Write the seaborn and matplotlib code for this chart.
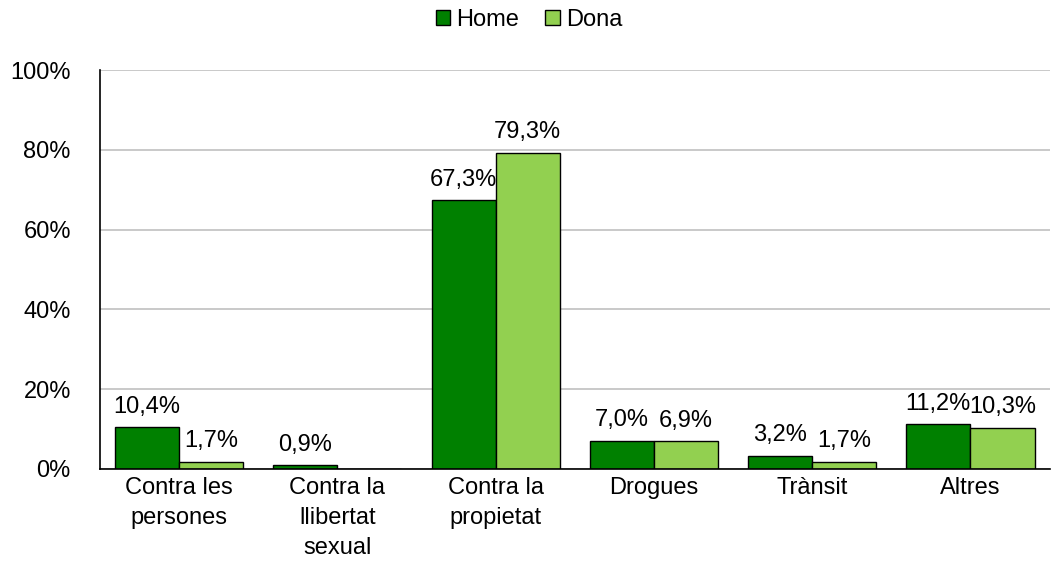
import matplotlib
matplotlib.use("Agg")
import matplotlib.pyplot as plt
import numpy as np
import pandas as pd
import seaborn as sns

CATEGORIES = [
    "Contra les\npersones",
    "Contra la\nllibertat\nsexual",
    "Contra la\npropietat",
    "Drogues",
    "Trànsit",
    "Altres",
]
HOME = [10.4, 0.9, 67.3, 7.0, 3.2, 11.2]
DONA = [1.7, 0.0, 79.3, 6.9, 1.7, 10.3]
SERIES = ["Home", "Dona"]
COLORS = {"Home": "#008000", "Dona": "#92D050"}

df = pd.DataFrame({
    "cat": CATEGORIES * 2,
    "sex": ["Home"] * len(HOME) + ["Dona"] * len(DONA),
    "val": HOME + DONA,
})

sns.set_style("white")
plt.rcParams["font.family"] = ["Liberation Sans", "DejaVu Sans"]
plt.rcParams["text.color"] = "black"
FS = 17

fig = plt.figure(figsize=(10.58, 5.81), dpi=100)
ax = fig.add_axes([0.0945, 0.1928, 0.8975, 0.6867])

sns.barplot(
    data=df, x="cat", y="val", hue="sex", hue_order=SERIES,
    order=CATEGORIES, palette=COLORS, width=0.81,
    edgecolor="black", linewidth=1.0, saturation=1, ax=ax,
)

for cont in ax.containers:
    labels = [f"{b.get_height():.1f}%".replace(".", ",") if b.get_height() > 0 else "" for b in cont]
    ax.bar_label(cont, labels=labels, padding=7, fontsize=FS, color="black")

ax.set_ylim(0, 100)
ax.set_xlim(-0.5, len(CATEGORIES) - 0.5)
ax.set_yticks(np.arange(0, 101, 20))
ax.set_yticklabels([f"{v}%" for v in range(0, 101, 20)], fontsize=FS, color="black")
ax.yaxis.grid(True, color="#c0c0c0", linewidth=1.2)
ax.set_axisbelow(True)

ax.set_xticks(np.arange(len(CATEGORIES)))
ax.set_xticklabels(CATEGORIES, fontsize=FS, va="top", linespacing=1.45, color="black")
ax.set_xticks(np.arange(-0.5, len(CATEGORIES)), minor=True)
ax.tick_params(axis="x", which="major", length=0, pad=6)
ax.tick_params(axis="x", which="minor", length=6, direction="out", width=1, color="black")
ax.tick_params(axis="y", length=6, direction="out", width=1, color="black", pad=15)
ax.set_xlabel("")
ax.set_ylabel("")

for side in ("top", "right"):
    ax.spines[side].set_visible(False)
for side in ("left", "bottom"):
    ax.spines[side].set_color("black")
    ax.spines[side].set_linewidth(1.2)

handles, lbls = ax.get_legend_handles_labels()
ax.get_legend().remove()
fig.legend(
    handles, lbls, loc="center", bbox_to_anchor=(0.5, 1 - 20 / 581), ncol=2,
    frameon=False, fontsize=FS, handlelength=0.62, handleheight=0.62,
    handletextpad=0.25, columnspacing=1.1, borderaxespad=0, borderpad=0,
)

fig.savefig("out.png", dpi=100)
